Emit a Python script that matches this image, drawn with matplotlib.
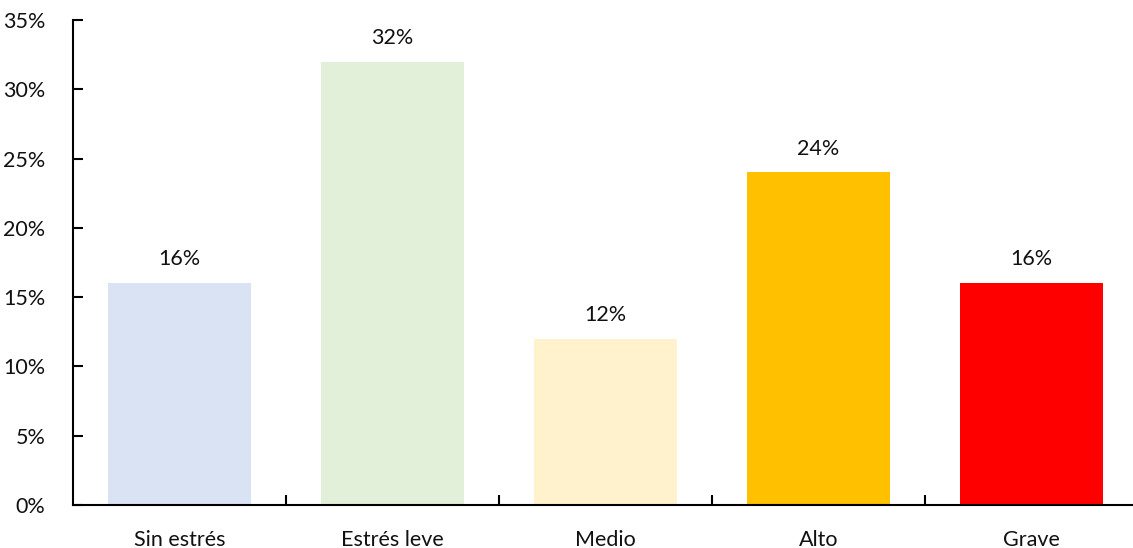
import numpy as np
import matplotlib.pyplot as plt
from matplotlib.ticker import PercentFormatter

categories = ["Sin estrés", "Estrés leve", "Medio", "Alto", "Grave"]
values = [16, 32, 12, 24, 16]
colors = ["#DAE3F3", "#E2F0D9", "#FFF2CC", "#FFC000", "#FF0000"]

plt.rcParams['font.family'] = ['Lato', 'DejaVu Sans']

fig = plt.figure(figsize=(11.33, 5.48), dpi=100)
ax = fig.add_axes([73 / 1133, 1 - 505 / 548, (1138 - 73) / 1133, 485 / 548])

x = np.arange(len(categories))
bars = ax.bar(x, values, width=0.67, color=colors)

for b, v in zip(bars, values):
    ax.text(b.get_x() + b.get_width() / 2, v + 1.0, f"{v}%", ha="center",
            va="bottom", fontsize=15.5, color="#111111")

ax.set_xlim(-0.5, len(categories) - 0.5)
ax.set_ylim(0, 35)
ax.set_yticks(np.arange(0, 36, 5))
ax.yaxis.set_major_formatter(PercentFormatter(decimals=0))
ax.set_xticks(x)
ax.set_xticklabels(categories)
ax.set_xticks(np.arange(0.5, len(categories) - 0.5, 1), minor=True)

ax.tick_params(axis="x", which="major", length=0, pad=18, labelsize=15.5,
               labelcolor="#111111")
ax.tick_params(axis="x", which="minor", direction="in", length=7, width=1.5)
ax.tick_params(axis="y", direction="in", length=7, width=1.5, pad=20,
               labelsize=15.5, labelcolor="#111111")

for s in ["top", "right"]:
    ax.spines[s].set_visible(False)
for s in ["left", "bottom"]:
    ax.spines[s].set_linewidth(1.5)

fig.savefig("out.png", dpi=100)
